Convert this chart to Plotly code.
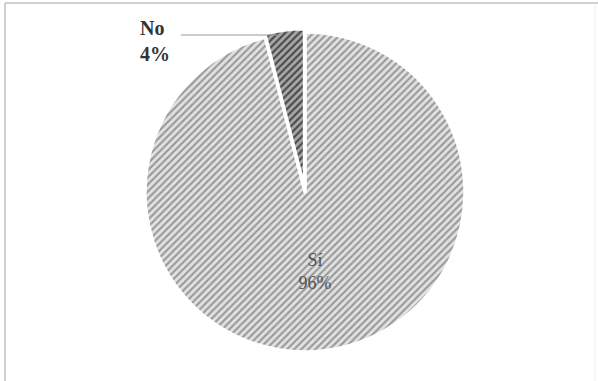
import plotly.graph_objects as go

labels = ["Sí", "No"]
values = [96, 4]

W, H = 598, 381
cx, cy, r = 305, 192, 160
pull = [0, 0.02]
rr = r * 1.02

fig = go.Figure(go.Pie(
    labels=labels,
    values=values,
    sort=False,
    direction="clockwise",
    rotation=0,
    pull=pull,
    marker=dict(
        colors=["#d6d6d6", "#9a9a9a"],
        line=dict(color="white", width=3.5),
        pattern=dict(
            shape=["/", "/"],
            bgcolor=["#e2e2e2", "#a8a8a8"],
            fgcolor=["#9a9a9a", "#4a4a4a"],
            size=5,
            solidity=0.42,
            fillmode="replace",
        ),
    ),
    texttemplate=["%{label}<br>%{percent:.0%}", ""],
    textposition="inside",
    insidetextorientation="horizontal",
    textfont=dict(family="Liberation Serif", size=18, color="#555555"),
    hoverinfo="label+percent",
    showlegend=False,
    domain=dict(
        x=[(cx - rr) / W, (cx + rr) / W],
        y=[(H - cy - rr) / H, (H - cy + rr) / H],
    ),
))

fig.add_annotation(
    text="<b>No<br>4%</b>",
    x=138 / W, y=(H - 41) / H, xref="paper", yref="paper",
    xanchor="left", yanchor="middle",
    showarrow=False, align="left",
    font=dict(family="Liberation Serif", size=20, color="#333333"),
)
fig.add_shape(type="line", xref="paper", yref="paper",
              x0=181 / W, x1=282 / W, y0=(H - 35) / H, y1=(H - 35) / H,
              line=dict(color="#999999", width=1))
# figure frame
fig.add_shape(type="line", xref="paper", yref="paper",
              x0=5 / W, x1=598 / W, y0=(H - 3) / H, y1=(H - 3) / H,
              line=dict(color="#cfcfcf", width=2))
fig.add_shape(type="line", xref="paper", yref="paper",
              x0=5 / W, x1=5 / W, y0=0, y1=(H - 3) / H,
              line=dict(color="#cfcfcf", width=2))
fig.add_shape(type="line", xref="paper", yref="paper",
              x0=595 / W, x1=595 / W, y0=0, y1=(H - 3) / H,
              line=dict(color="#eeeeee", width=1))

fig.update_layout(
    width=W, height=H,
    margin=dict(l=0, r=0, t=0, b=0),
    paper_bgcolor="white",
    plot_bgcolor="white",
)

fig.write_html("out.html", config={"displayModeBar": False},
               post_script="document.body.style.margin='0';")
